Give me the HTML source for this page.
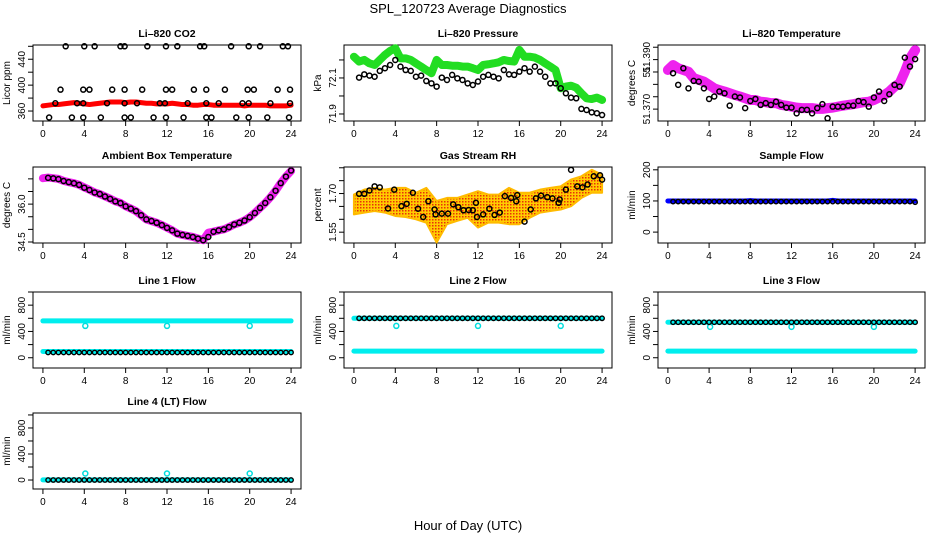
<!DOCTYPE html>
<html><head><meta charset="utf-8">
<style>
html,body{margin:0;padding:0;background:#fff;}
svg{display:block;font-family:"Liberation Sans",Arial,sans-serif;}
</style></head>
<body>
<svg id="chart" width="936" height="540" viewBox="0 0 936 540" xmlns="http://www.w3.org/2000/svg">
<defs>
<pattern id="rhpat" width="3" height="3" patternUnits="userSpaceOnUse">
<rect width="3" height="3" fill="#ffcc00"/>
<rect x="0" y="0" width="1.5" height="1.5" fill="#e8300a"/>
</pattern>
</defs>
<text x="468" y="13" font-size="13" text-anchor="middle">SPL_120723  Average Diagnostics</text>
<text x="468" y="530" font-size="13" text-anchor="middle">Hour of Day (UTC)</text>
</svg>
<script>
// ---------- data ----------
const hours = [0,0.5,1,1.5,2,2.5,3,3.5,4,4.5,5,5.5,6,6.5,7,7.5,8,8.5,9,9.5,10,10.5,11,11.5,12,12.5,13,13.5,14,14.5,15,15.5,16,16.5,17,17.5,18,18.5,19,19.5,20,20.5,21,21.5,22,22.5,23,23.5,24];
const hrs = [0,1,2,3,4,5,6,7,8,9,10,11,12,13,14,15,16,17,18,19,20,21,22,23,24];
const xTicks = [0,4,8,12,16,20,24];

// CO2
const co2Band = [368,369,370,370,371,372,373,372,371,370,371,372,373,374,374,374,373,374,374,373,372,372,371,371,371,372,371,370,370,369,369,370,370,369,369,369,369,369,369,368,369,369,369,369,368,368,368,368,369];
const co2TopX = [2.2,4,5,7.5,7.9,10.1,11.9,13,15.2,15.6,18.2,19.9,21,23.2,23.7];
const co2TopY = [460,460,460,460,460,460,460,460,460,460,460,460,460,460,460];
const co2HiX = [1.7,3.9,4.5,6.7,7.9,9.6,11.9,12.5,14.6,15.8,17.6,19.8,20.4,22.7,23.9];
const co2HiY = [393,393,393,393,393,393,393,393,393,393,393,393,393,393,393];
const co2MidX = [1.2,3.3,3.9,6.2,7.9,9.1,11.3,11.8,14,15.8,17,19.3,19.9,22,23.9];
const co2MidY = [372,372,372,372,372,372,372,372,372,372,372,372,372,372,372];
const co2LoX = [0.6,2.8,3.9,5.6,7.9,8.5,10.7,11.9,13.6,15.8,16.3,18.7,19.9,21.7,23.8];
const co2LoY = [350,350,350,350,350,350,350,350,350,350,350,350,350,350,350];

// Pressure
const presBand = [72.218,72.191,72.200,72.181,72.172,72.200,72.228,72.250,72.265,72.209,72.209,72.200,72.181,72.163,72.144,72.126,72.200,72.172,72.172,72.168,72.168,72.163,72.163,72.154,72.144,72.172,72.176,72.181,72.187,72.200,72.194,72.191,72.256,72.218,72.218,72.213,72.200,72.181,72.163,72.144,72.043,72.052,72.057,72.046,72.015,71.987,71.983,71.991,71.978];
const presAvg = [72.102,72.120,72.113,72.107,72.139,72.154,72.172,72.200,72.163,72.144,72.139,72.107,72.113,72.083,72.070,72.052,72.102,72.089,72.117,72.098,72.089,72.070,72.061,72.080,72.107,72.117,72.107,72.098,72.144,72.120,72.117,72.135,72.154,72.135,72.163,72.135,72.107,72.070,72.070,72.043,72.015,71.991,71.987,71.928,71.922,71.909,71.904,71.894];

// Li-820 temperature
const tempBand = [51.3808,51.3828,51.3815,51.3808,51.3801,51.3775,51.3768,51.3761,51.3748,51.3734,51.3727,51.3721,51.3714,51.3707,51.3701,51.3694,51.3687,51.3687,51.3680,51.3678,51.3674,51.3674,51.3667,51.3664,51.3660,51.3656,51.3654,51.3654,51.3654,51.3651,51.3651,51.3654,51.3656,51.3660,51.3664,51.3667,51.3670,51.3674,51.3678,51.3680,51.3687,51.3697,51.3707,51.3721,51.3741,51.3754,51.3801,51.3855,51.3888];
const tempAvg = [51.3795,51.3748,51.3815,51.3734,51.3764,51.3761,51.3734,51.3691,51.3701,51.3721,51.3714,51.3664,51.3701,51.3697,51.3654,51.3683,51.3691,51.3667,51.3674,51.3667,51.3680,51.3667,51.3656,51.3656,51.3633,51.3647,51.3647,51.3633,51.3654,51.3670,51.3613,51.3660,51.3660,51.3660,51.3664,51.3664,51.3683,51.3678,51.3660,51.3697,51.3721,51.3683,51.3710,51.3748,51.3741,51.3858,51.3822,51.3852];

// Ambient box temperature
const ambBand = [37.026,37.052,37.026,37.000,36.922,36.869,36.830,36.765,36.660,36.569,36.464,36.399,36.307,36.216,36.111,36.046,35.915,35.824,35.719,35.562,35.392,35.327,35.261,35.170,35.065,34.961,34.830,34.778,34.739,34.699,34.634,34.569,34.869,34.909,34.961,35.000,35.092,35.196,35.261,35.353,35.484,35.654,35.850,36.046,36.268,36.529,36.830,37.092,37.314];
const ambAvg = [37.040,37.020,36.990,36.915,36.870,36.825,36.760,36.650,36.560,36.460,36.400,36.300,36.210,36.110,36.040,35.910,35.820,35.720,35.560,35.395,35.330,35.260,35.170,35.060,34.960,34.830,34.780,34.740,34.700,34.635,34.570,34.700,34.905,34.960,35.000,35.090,35.195,35.260,35.350,35.480,35.650,35.850,36.045,36.270,36.530,36.830,37.090,37.330];

// Gas stream RH
const rhHigh = [1.696,1.715,1.722,1.715,1.722,1.722,1.703,1.722,1.671,1.683,1.683,1.696,1.709,1.696,1.696,1.722,1.703,1.703,1.715,1.722,1.728,1.754,1.767,1.792,1.773];
const rhLow = [1.619,1.626,1.632,1.626,1.613,1.609,1.600,1.587,1.510,1.581,1.594,1.606,1.568,1.587,1.587,1.581,1.581,1.606,1.626,1.632,1.638,1.651,1.683,1.703,1.703];
const rhAvgX = [0.5,1,1.5,2,2.5,3.3,3.9,4.6,5.1,5.7,6.2,6.7,7.2,7.8,7.9,8.5,9.1,9.6,10.1,10.6,11.1,11.5,11.8,11.9,12.5,13.1,13.6,14.1,14.6,15.2,15.7,15.8,16.5,17.1,17.6,18.1,18.7,19.2,19.8,19.9,20.5,21,21.6,22.1,22.6,23.2,23.8,24];
const rhAvgY = [1.699,1.699,1.712,1.728,1.724,1.642,1.715,1.651,1.660,1.703,1.641,1.609,1.670,1.638,1.619,1.622,1.622,1.658,1.647,1.635,1.636,1.635,1.664,1.609,1.619,1.641,1.617,1.626,1.690,1.683,1.670,1.694,1.591,1.638,1.681,1.692,1.686,1.681,1.664,1.677,1.715,1.792,1.728,1.724,1.735,1.767,1.771,1.754];

// Sample flow
const sampleBand = [100,100,100,100,100,100,100,100,100,100,100,100,100,100,100,100,101,100,100,100,100,100,100,100,100,100,100,100,100,100,100,100,102,100,100,100,100,100,100,100,100,100,100,100,100,100,100,100,100];
const sampleAvg = [98,98,98,98,98,98,98,98,98,98,98,98,98,98,98,98,98,98,98,98,98,98,98,98,98,98,98,98,98,98,98,98,98,98,98,98,98,98,98,98,98,98,98,98,98,98,98,96];

// Line flows
const outlierX = [4.1,12,20];
const l1CyanHi = [560,560,560,560,560,560,560,560,560,560,560,560,560,560,560,560,560,560,560,560,560,560,560,560,560,560,560,560,560,560,560,560,560,560,560,560,560,560,560,560,560,560,560,560,560,560,560,560,560];
const l1CyanLo = [95,95,95,95,95,95,95,95,95,95,95,95,95,95,95,95,95,95,95,95,95,95,95,95,95,95,95,95,95,95,95,95,95,95,95,95,95,95,95,95,95,95,95,95,95,95,95,95,95];
const l1Out = [484,484,484];
const l1Avg = [80,80,80,80,80,80,80,80,80,80,80,80,80,80,80,80,80,80,80,80,80,80,80,80,80,80,80,80,80,80,80,80,80,80,80,80,80,80,80,80,80,80,80,80,80,80,80,80];
const l2CyanHi = [600,600,600,600,600,600,600,600,600,600,600,600,600,600,600,600,600,600,600,600,600,600,600,600,600,600,600,600,600,600,600,600,600,600,600,600,600,600,600,600,600,600,600,600,600,600,600,600,600];
const l2CyanLo = [100,100,100,100,100,100,100,100,100,100,100,100,100,100,100,100,100,100,100,100,100,100,100,100,100,100,100,100,100,100,100,100,100,100,100,100,100,100,100,100,100,100,100,100,100,100,100,100,100];
const l2Out = [484,484,484];
const l2Avg = [600,600,600,600,600,600,600,600,600,600,600,600,600,600,600,600,600,600,600,600,600,600,600,600,600,600,600,600,600,600,600,600,600,600,600,600,600,600,600,600,600,600,600,600,600,600,600,600];
const l3CyanHi = [540,540,540,540,540,540,540,540,540,540,540,540,540,540,540,540,540,540,540,540,540,540,540,540,540,540,540,540,540,540,540,540,540,540,540,540,540,540,540,540,540,540,540,540,540,540,540,540,540];
const l3CyanLo = [100,100,100,100,100,100,100,100,100,100,100,100,100,100,100,100,100,100,100,100,100,100,100,100,100,100,100,100,100,100,100,100,100,100,100,100,100,100,100,100,100,100,100,100,100,100,100,100,100];
const l3Out = [470,470,470];
const l3Avg = [540,540,540,540,540,540,540,540,540,540,540,540,540,540,540,540,540,540,540,540,540,540,540,540,540,540,540,540,540,540,540,540,540,540,540,540,540,540,540,540,540,540,540,540,540,540,540,540];
const l4Cyan = [2,2,2,2,2,2,2,2,2,2,2,2,2,2,2,2,2,2,2,2,2,2,2,2,2,2,2,2,2,2,2,2,2,2,2,2,2,2,2,2,2,2,2,2,2,2,2,2,2];
const l4Out = [100,100,100];
const l4Avg = [0,0,0,0,0,0,0,0,0,0,0,0,0,0,0,0,0,0,0,0,0,0,0,0,0,0,0,0,0,0,0,0,0,0,0,0,0,0,0,0,0,0,0,0,0,0,0,0];

// axis ticks
const co2Ticks = [360,380,400,420,440,460], co2Labels = ["360","","400","","440",""];
const presTicks = [71.9,72.0,72.1,72.2], presLabels = ["71.9","","72.1",""];
const tempTicks = [51.365,51.370,51.375,51.380,51.385,51.390], tempLabels = ["51.370","","","51","","51.390"];
const ambTicks = [34.5,35.0,35.5,36.0,36.5,37.0], ambLabels = ["34.5","","","36.0","",""];
const rhTicks = [1.55,1.60,1.65,1.70,1.75,1.80], rhLabels = ["1.55","","","1.70","",""];
const sfTicks = [0,50,100,150,200], sfLabels = ["0","","100","","200"];
const flowTicks = [0,200,400,600,800,1000], flowLabels = ["0","","400","","800",""];

// ---------- drawing ----------
const NS = "http://www.w3.org/2000/svg";
const svg = document.getElementById("chart");
function mk(tag, attrs, parent) {
  const e = document.createElementNS(NS, tag);
  for (const k in attrs) e.setAttribute(k, attrs[k]);
  (parent || svg).appendChild(e);
  return e;
}
const cols = [[33,301],[344,612],[658,925]];
const rows = [45,167,292,413];
const H = 76;

function panel(name, col, row, title, ylab, ymin, ymax, ticks, labels, tempLabelMode) {
  const [x0, x1] = cols[col]; const y0 = rows[row], y1 = y0 + H;
  const g = mk("g", {});
  
  
  const sx = v => x0 + (v + 0.96) / 25.92 * (x1 - x0);
  const sy = v => y1 - (v - ymin) / (ymax - ymin) * (y1 - y0);
  const box = mk("rect", {x:x0, y:y0, width:x1-x0, height:y1-y0, fill:"none", stroke:"#000", "stroke-width":1}, g);
  
  
  const t = mk("text", {x:(x0+x1)/2, y:y0-8, "font-size":10.5, "font-weight":"bold", "text-anchor":"middle"}, g);
  t.textContent = title;
  
  
  const yl = mk("text", {transform:`translate(${x0-23},${(y0+y1)/2}) rotate(-90)`, "font-size":10, "text-anchor":"middle"}, g);
  yl.textContent = ylab;
  
  
  const xa = mk("g", {}, g);
  
  
  xTicks.forEach(v => {
    mk("line", {x1:sx(v), x2:sx(v), y1:y1, y2:y1+5, stroke:"#000"}, xa);
    const tl = mk("text", {x:sx(v), y:y1+16, "font-size":10, "text-anchor":"middle"}, xa);
    tl.textContent = String(v);
    
    
  });
  const ya = mk("g", {}, g);
  
  
  ticks.forEach((v, i) => {
    mk("line", {x1:x0-5, x2:x0, y1:sy(v), y2:sy(v), stroke:"#000"}, ya);
    if (labels[i]) {
      let ly = sy(v);
      if (tempLabelMode && labels[i] === "51.390") ly = sy(v) + 10;
      const tl = mk("text", {transform:`translate(${x0-8},${ly}) rotate(-90)`, "font-size":10, "text-anchor":"middle"}, ya);
      tl.textContent = labels[i];
      
      
    }
  });
  return {g, sx, sy};
}
function band(p, xs, ys, color, w, name) {
  const pts = xs.map((x, i) => p.sx(x) + "," + p.sy(ys[i])).join(" ");
  const l = mk("polyline", {points:pts, fill:"none", stroke:color, "stroke-width":w, "stroke-linejoin":"round", "stroke-linecap":"round"}, p.g);
  
  
}
function dots(p, xs, ys, color, name, r, sw) {
  const g = mk("g", {}, p.g);
  
  
  xs.forEach((x, i) => {
    mk("circle", {cx:p.sx(x), cy:p.sy(ys[i]), r:r||2.5, fill:"none", stroke:color, "stroke-width":sw||1.5}, g);
  });
}
const avgX = hours.slice(1);

let p = panel("co2", 0, 0, "Li\u2013820 CO2", "Licor ppm", 344.6, 462, co2Ticks, co2Labels);
band(p, hours, co2Band, "#ff0000", 5, "co2-raw-band");
dots(p, co2TopX, co2TopY, "#000", "co2-avg-top");
dots(p, co2HiX, co2HiY, "#000", "co2-avg-high");
dots(p, co2MidX, co2MidY, "#000", "co2-avg-mid");
dots(p, co2LoX, co2LoY, "#000", "co2-avg-low");

p = panel("pressure", 1, 0, "Li\u2013820 Pressure", "kPa", 71.861, 72.283, presTicks, presLabels);
band(p, hours, presBand, "#22dd22", 8, "pressure-raw-band");
dots(p, avgX, presAvg, "#000", "pressure-avg-points");

p = panel("li820-temp", 2, 0, "Li\u2013820 Temperature", "degrees C", 51.3602, 51.3909, tempTicks, tempLabels, true);
band(p, hours, tempBand, "#ee22ee", 10, "temperature-raw-band");
dots(p, avgX, tempAvg, "#000", "temperature-avg-points");

p = panel("ambient-temp", 0, 1, "Ambient Box Temperature", "degrees C", 34.46, 37.47, ambTicks, ambLabels);
band(p, hours, ambBand, "#ee22ee", 8, "ambient-raw-band");
dots(p, avgX, ambAvg, "#000", "ambient-avg-points");

p = panel("rh", 1, 1, "Gas Stream RH", "percent", 1.508, 1.803, rhTicks, rhLabels);
{
  const top = hrs.map((x, i) => p.sx(x) + "," + p.sy(rhHigh[i]));
  const bot = hrs.map((x, i) => p.sx(x) + "," + p.sy(rhLow[i])).reverse();
  const a = mk("polygon", {points:top.concat(bot).join(" "), fill:"url(#rhpat)", stroke:"#ffbb00", "stroke-width":2, "stroke-linejoin":"round"}, p.g);
  
  
}
dots(p, rhAvgX, rhAvgY, "#000", "rh-avg-points");

p = panel("sample-flow", 2, 1, "Sample Flow", "ml/min", -35, 209, sfTicks, sfLabels);
band(p, hours, sampleBand, "#0000ff", 5, "sample-flow-raw-band");
dots(p, avgX, sampleAvg, "#000", "sample-flow-avg-points", 2.2, 1.4);

p = panel("line1-flow", 0, 2, "Line 1 Flow", "ml/min", -156, 1000, flowTicks, flowLabels);
band(p, hours, l1CyanHi, "#00eeee", 5, "line1-cyan-high");
band(p, hours, l1CyanLo, "#00eeee", 5, "line1-cyan-low");
dots(p, outlierX, l1Out, "#00dddd", "line1-outliers");
dots(p, avgX, l1Avg, "#000", "line1-avg-points", 2.2, 1.4);

p = panel("line2-flow", 1, 2, "Line 2 Flow", "ml/min", -156, 1000, flowTicks, flowLabels);
band(p, hours, l2CyanHi, "#00eeee", 5, "line2-cyan-high");
band(p, hours, l2CyanLo, "#00eeee", 5, "line2-cyan-low");
dots(p, outlierX, l2Out, "#00dddd", "line2-outliers");
dots(p, avgX, l2Avg, "#000", "line2-avg-points", 2.2, 1.4);

p = panel("line3-flow", 2, 2, "Line 3 Flow", "ml/min", -156, 1000, flowTicks, flowLabels);
band(p, hours, l3CyanHi, "#00eeee", 5, "line3-cyan-high");
band(p, hours, l3CyanLo, "#00eeee", 5, "line3-cyan-low");
dots(p, outlierX, l3Out, "#00dddd", "line3-outliers");
dots(p, avgX, l3Avg, "#000", "line3-avg-points", 2.2, 1.4);

p = panel("line4-flow", 0, 3, "Line 4 (LT) Flow", "ml/min", -138, 1030, flowTicks, flowLabels);
band(p, hours, l4Cyan, "#00eeee", 5, "line4-cyan");
dots(p, outlierX, l4Out, "#00dddd", "line4-outliers");
dots(p, avgX, l4Avg, "#000", "line4-avg-points", 2.2, 1.4);
</script>
</body></html>
